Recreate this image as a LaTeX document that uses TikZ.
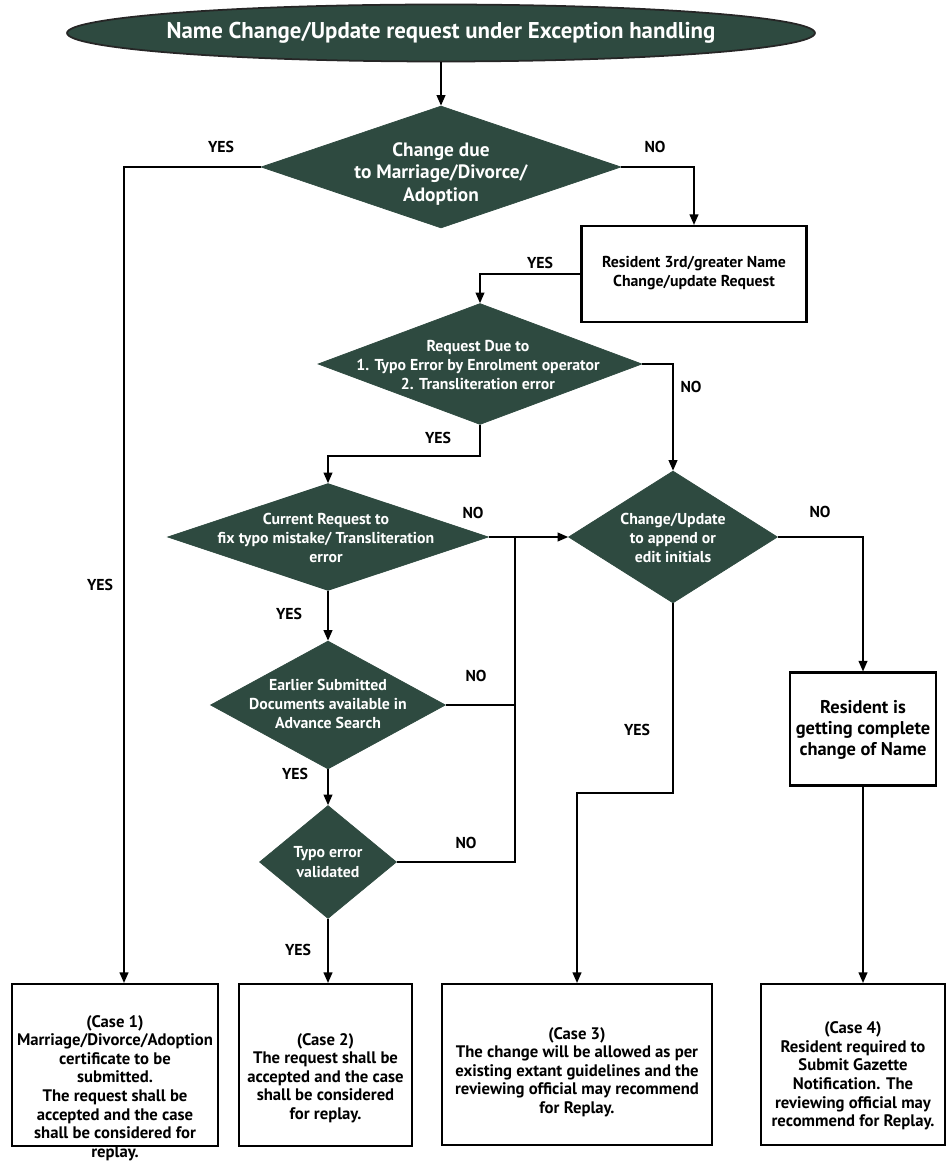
\documentclass[tikz,border=0pt]{standalone}
\usepackage{fontspec}
\setmainfont{PT Sans}
\usetikzlibrary{shapes.geometric,arrows.meta}
\definecolor{dgreen}{HTML}{2E4A40}
\begin{document}
\begin{tikzpicture}[x=0.02cm,y=-0.02cm,
  line/.style={draw=black,line width=0.9pt},
  arr/.style={line,-{Triangle[length=6pt,width=5pt]}},
  dia/.style={diamond,fill=dgreen,draw=dgreen,inner sep=0pt},
  dtext/.style={text=white,align=center,font=\bfseries\fontsize{9}{11}\selectfont},
  box/.style={rectangle,draw=black,line width=1.2pt,fill=white,inner sep=0pt},
  btext/.style={align=center,font=\bfseries\fontsize{9.5}{10.6}\selectfont},
  lbl/.style={font=\bfseries\fontsize{9}{10}\selectfont}
]
\useasboundingbox (0,0) rectangle (949,1165);

% title
\node[ellipse,fill=dgreen,draw=black!85,line width=1pt,minimum width=14.96cm,minimum height=1.14cm,inner sep=0pt] (title) at (441,33) {};
\node[text=white,font=\bfseries\fontsize{13}{15}\selectfont] (titlet) at (441,33) {Name Change/Update request under Exception handling};

% decisions
\node[dia,minimum width=7.2cm,minimum height=2.44cm] (d1) at (441,167) {};
\node[dtext,font=\bfseries\fontsize{11}{13}\selectfont] (d1t) at (441,174) {Change due\\to Marriage/Divorce/\\Adoption};

\node[dia,minimum width=6.48cm,minimum height=2.42cm] (d2) at (480,364) {};
\node[dtext] (d2t) at (478,365) {Request Due to\\1. Typo Error by Enrolment operator\\2. Transliteration error};

\node[dia,minimum width=6.42cm,minimum height=2.14cm] (d3) at (328,537) {};
\node[dtext] (d3t) at (326,538) {Current Request to\\fix typo mistake/ Transliteration\\error};

\node[dia,minimum width=4.18cm,minimum height=2.64cm] (d4) at (673,537) {};
\node[dtext] (d4t) at (673,538) {Change/Update\\to append or\\edit initials};

\node[dia,minimum width=4.7cm,minimum height=2.56cm] (d5) at (328,705) {};
\node[dtext] (d5t) at (328,704) {Earlier Submitted\\Documents available in\\Advance Search};

\node[dia,minimum width=2.74cm,minimum height=2.26cm] (d6) at (328,862) {};
\node[dtext] (d6t) at (328,862) {Typo error\\validated};

% process boxes
\node[box,minimum width=4.5cm,minimum height=1.92cm] (r3) at (694,274) {};
\node[btext,font=\bfseries\fontsize{9}{11}\selectfont] (r3t) at (694,273) {Resident 3rd/greater Name\\Change/update Request};

\node[box,minimum width=2.92cm,minimum height=2.26cm] (rc) at (863,729) {};
\node[btext,font=\bfseries\fontsize{10.5}{12}\selectfont] (rct) at (863,730) {Resident is\\getting complete\\change of Name};

% outcome boxes
\node[box,minimum width=4.12cm,minimum height=3.24cm] (c1) at (115,1065) {};
\node[btext] (c1t) at (115,1088) {(Case 1)\\Marriage/Divorce/Adoption\\certificate to be\\submitted.\\The request shall be\\accepted and the case\\shall be considered for\\replay.};

\node[box,minimum width=3.46cm,minimum height=3.24cm] (c2) at (325.5,1065) {};
\node[btext] (c2t) at (325.5,1078) {(Case 2)\\The request shall be\\accepted and the case\\shall be considered\\for replay.};

\node[box,minimum width=5.4cm,minimum height=3.22cm] (c3) at (577,1064.5) {};
\node[btext] (c3t) at (577,1072) {(Case 3)\\The change will be allowed as per\\existing extant guidelines and the\\reviewing official may recommend\\for Replay.};

\node[box,minimum width=3.68cm,minimum height=3.22cm] (c4) at (853,1064.5) {};
\node[btext] (c4t) at (853,1076) {(Case 4)\\Resident required to\\Submit Gazette\\Notification. The\\reviewing official may\\recommend for Replay.};

% junction points
\coordinate (j1) at (124,167);
\coordinate (m1) at (515,537);
\coordinate (j4) at (673,793);

% connectors
\draw[arr] (title.south) -- (d1.north);
\draw[arr] (d1.west) -- (j1) -- (j1 |- c1.north);
\draw[arr] (d1.east) -| (r3.north);
\draw[arr] (r3.west) -| (d2.north);
\draw[arr] (d2.east) -| (d4.north);
\draw[arr] (d2.south) -- ++(0,31) -| (d3.north);
\draw[arr] (d3.east) -- (d4.west);
\draw[arr] (d3.south) -- (d5.north);
\draw[line] (d5.east) -| (m1);
\draw[arr] (d5.south) -- (d6.north);
\draw[line] (d6.east) -| (m1);
\draw[arr] (d6.south) -- (d6.south |- c2.north);
\draw[arr] (d4.south) -- (j4) -| (c3.north);
\draw[arr] (d4.east) -| (rc.north);
\draw[arr] (rc.south) -- (rc.south |- c4.north);

% branch labels
\node[lbl] (l1) at (221,147) {YES};
\node[lbl] (l2) at (655,147) {NO};
\node[lbl] (l3) at (540,263) {YES};
\node[lbl] (l4) at (691,387) {NO};
\node[lbl] (l5) at (438,438) {YES};
\node[lbl] (l6) at (473,513) {NO};
\node[lbl] (l7) at (100,585) {YES};
\node[lbl] (l8) at (289,614) {YES};
\node[lbl] (l9) at (476,676) {NO};
\node[lbl] (l10) at (295,774) {YES};
\node[lbl] (l11) at (466,843) {NO};
\node[lbl] (l12) at (298,950) {YES};
\node[lbl] (l13) at (637,730) {YES};
\node[lbl] (l14) at (820,512) {NO};
\end{tikzpicture}
\end{document}
